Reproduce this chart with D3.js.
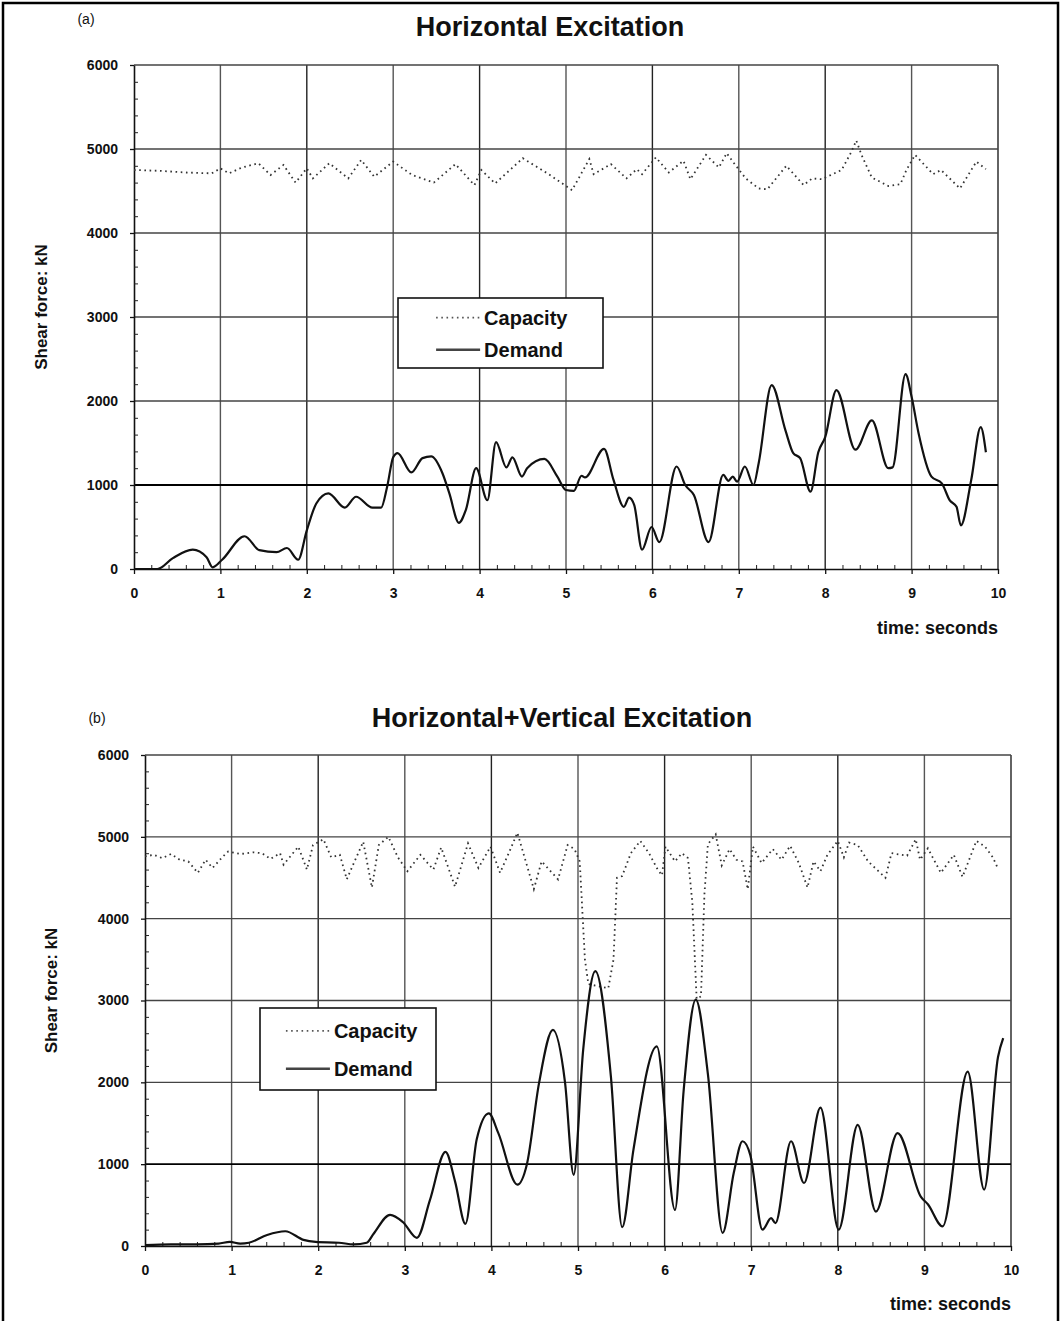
<!DOCTYPE html>
<html>
<head>
<meta charset="utf-8">
<script src="https://cdn.jsdelivr.net/npm/d3@7"></script>
<style>
  body { margin: 0; background: #fff; }
  svg text { font-family: "Liberation Sans", Arial, sans-serif; font-weight: bold; fill: #111; }
</style>
</head>
<body>
<div id="chart"></div>
<script>
// ---- data: [time (s), shear force (kN)] ----
var demandA = [[0,0],[0.27,0],[0.45,130],[0.68,230],[0.84,140],[0.91,20],[1.02,110],[1.28,390],[1.45,225],
  [1.65,200],[1.77,250],[1.9,110],[2.0,460],[2.11,780],[2.25,900],[2.44,730],[2.57,860],[2.76,730],[2.86,730],
  [2.93,980],[3.0,1330],[3.05,1380],[3.21,1150],[3.34,1320],[3.44,1340],[3.57,1140],[3.65,900],[3.76,550],
  [3.84,700],[3.96,1200],[4.09,820],[4.19,1510],[4.31,1210],[4.38,1330],[4.49,1100],[4.55,1200],[4.75,1310],
  [4.9,1100],[5.0,940],[5.09,930],[5.18,1110],[5.22,1090],[5.44,1430],[5.55,1060],[5.67,740],[5.73,850],
  [5.79,760],[5.88,230],[5.99,500],[6.08,320],[6.28,1220],[6.38,1000],[6.48,880],[6.65,320],[6.82,1120],
  [6.88,1050],[6.93,1100],[6.98,1040],[7.07,1220],[7.17,1000],[7.23,1260],[7.38,2190],[7.54,1650],[7.63,1380],
  [7.71,1320],[7.83,920],[7.92,1390],[8.0,1570],[8.13,2130],[8.35,1420],[8.54,1770],[8.73,1200],[8.78,1210],
  [8.93,2320],[9.0,2050],[9.08,1620],[9.23,1100],[9.35,1020],[9.44,820],[9.52,740],[9.57,520],[9.69,1060],
  [9.8,1690],[9.86,1390]];

var capacityA = [[0,4750],[0.3,4740],[0.6,4720],[0.9,4710],[1.0,4770],[1.1,4710],[1.25,4780],[1.44,4830],
  [1.58,4690],[1.73,4810],[1.87,4600],[2.0,4770],[2.07,4650],[2.26,4830],[2.48,4650],[2.63,4870],[2.78,4670],
  [3.0,4850],[3.22,4690],[3.47,4600],[3.72,4820],[3.94,4570],[4.02,4750],[4.18,4590],[4.5,4890],[4.8,4700],
  [5.07,4510],[5.27,4880],[5.32,4700],[5.52,4820],[5.7,4650],[5.82,4760],[5.88,4700],[6.04,4900],[6.19,4720],
  [6.36,4860],[6.44,4640],[6.62,4930],[6.77,4780],[6.86,4950],[6.93,4850],[7.08,4650],[7.23,4530],[7.33,4520],
  [7.55,4800],[7.75,4570],[7.85,4650],[7.96,4640],[8.19,4750],[8.3,4960],[8.36,5100],[8.42,4930],[8.54,4660],
  [8.73,4560],[8.87,4580],[8.94,4750],[9.04,4930],[9.25,4700],[9.34,4750],[9.56,4530],[9.75,4850],[9.86,4760]];

var demandB = [[0,10],[0.3,20],[0.6,20],[0.85,30],[0.98,50],[1.1,30],[1.2,40],[1.41,135],[1.62,180],[1.83,75],
  [1.97,50],[2.24,40],[2.41,20],[2.56,40],[2.64,150],[2.83,380],[2.98,290],[3.14,100],[3.29,560],[3.47,1150],
  [3.58,790],[3.7,270],[3.83,1300],[3.97,1620],[4.08,1380],[4.3,750],[4.41,1000],[4.55,1990],[4.71,2640],
  [4.85,2000],[4.95,870],[5.06,2400],[5.2,3360],[5.38,2070],[5.51,230],[5.64,1175],[5.91,2440],[6.12,440],
  [6.22,1900],[6.36,3010],[6.5,2100],[6.67,160],[6.8,900],[6.9,1280],[6.99,1110],[7.13,200],[7.23,340],
  [7.28,280],[7.46,1280],[7.61,770],[7.8,1690],[8.01,200],[8.23,1480],[8.44,420],[8.69,1380],[8.96,600],
  [9.04,510],[9.21,240],[9.5,2130],[9.69,690],[9.85,2310],[9.91,2540]];

var capacityB = [[0,4760],[0.1,4780],[0.2,4740],[0.3,4790],[0.4,4720],[0.5,4700],[0.61,4560],[0.7,4720],
  [0.78,4620],[0.9,4760],[0.96,4820],[1.1,4790],[1.25,4810],[1.35,4800],[1.45,4730],[1.56,4800],[1.6,4660],
  [1.77,4880],[1.87,4600],[1.94,4900],[2.06,4970],[2.15,4750],[2.25,4780],[2.33,4480],[2.42,4700],[2.52,4940],
  [2.62,4380],[2.7,4900],[2.81,5000],[2.92,4750],[3.03,4580],[3.18,4780],[3.33,4600],[3.42,4870],[3.58,4390],
  [3.73,4920],[3.85,4620],[3.99,4880],[4.1,4560],[4.2,4800],[4.3,5050],[4.49,4360],[4.58,4700],[4.77,4480],
  [4.88,4900],[4.96,4850],[5.02,4700],[5.08,3500],[5.12,3200],[5.35,3150],[5.41,3500],[5.45,4500],[5.51,4520],
  [5.61,4800],[5.72,4950],[5.82,4800],[5.92,4600],[5.97,4530],[6.01,4880],[6.12,4700],[6.2,4800],[6.27,4740],
  [6.32,4200],[6.37,3020],[6.42,3050],[6.46,4300],[6.5,4910],[6.59,5030],[6.66,4650],[6.75,4850],[6.83,4720],
  [6.9,4700],[6.96,4360],[7.02,4880],[7.12,4680],[7.25,4850],[7.35,4720],[7.45,4890],[7.55,4680],[7.65,4380],
  [7.72,4700],[7.8,4580],[7.88,4780],[8.0,4950],[8.07,4750],[8.13,4930],[8.23,4900],[8.35,4700],[8.55,4500],
  [8.62,4800],[8.8,4770],[8.9,4970],[8.95,4720],[9.04,4860],[9.19,4560],[9.34,4780],[9.44,4510],[9.6,4950],
  [9.7,4880],[9.79,4750],[9.85,4610]];

var titles = ["Horizontal Excitation", "Horizontal+Vertical Excitation"];
var tags = ["(a)", "(b)"];
var xTicks = d3.range(0, 11);
var yTicks = d3.range(0, 7000, 1000);
var legendLabels = ["Capacity", "Demand"];
var yLabel = "Shear force: kN";
var xLabel = "time: seconds";

var width = 1061, height = 1321;

var svg = d3.select("#chart").append("svg")
    .attr("width", width)
    .attr("height", height);

// scanned page frame (top, left, right)
svg.append("path")
    .attr("d", "M3," + height + "V3H1058V" + height)
    .attr("fill", "none")
    .attr("stroke", "#000")
    .attr("stroke-width", 2.5);

var panels = [
  {demand: demandA, capacity: capacityA, left: 134, right: 998, top: 65, bottom: 569,
   titleX: 550, titleY: 36, tagX: 86, tagY: 24, yLabX: 47, timeY: 634,
   legend: {x: 398, y: 298, w: 205, h: 70}},
  {demand: demandB, capacity: capacityB, left: 145, right: 1011, top: 755, bottom: 1246,
   titleX: 562, titleY: 727, tagX: 97, tagY: 723, yLabX: 57, timeY: 1310,
   legend: {x: 260, y: 1008, w: 176, h: 82}}
];

panels.forEach(function(p, i) { drawPanel(p, i); });

function drawPanel(p, i) {
  var x = d3.scaleLinear().domain([0, 10]).range([p.left, p.right]);
  var y = d3.scaleLinear().domain([0, 6000]).range([p.bottom, p.top]);
  var g = svg.append("g");

  // grid
  g.append("g").selectAll("line")
      .data(xTicks.slice(1))
    .join("line")
      .attr("x1", function(d) { return x(d); })
      .attr("x2", function(d) { return x(d); })
      .attr("y1", y(0))
      .attr("y2", y(6000))
      .attr("stroke", function(d) { return d % 2 ? "#555" : "#222"; })
      .attr("stroke-width", 1.4);

  g.append("g").selectAll("line")
      .data(yTicks.slice(1))
    .join("line")
      .attr("x1", x(0))
      .attr("x2", x(10))
      .attr("y1", function(d) { return y(d); })
      .attr("y2", function(d) { return y(d); })
      .attr("stroke", function(d) { return d == 1000 ? "#000" : "#444"; })
      .attr("stroke-width", function(d) { return d == 1000 ? 1.8 : 1.4; });

  // axes
  g.append("g")
      .attr("transform", "translate(0," + y(0) + ")")
      .call(d3.axisBottom(x).tickValues(xTicks).tickSize(5).tickSizeOuter(0).tickPadding(14)
              .tickFormat(d3.format("d")))
      .call(styleAxis);

  g.append("g")
      .attr("transform", "translate(0," + y(0) + ")")
      .call(d3.axisTop(x).tickValues(d3.range(1, 50).filter(function(k) { return k % 5; })
              .map(function(k) { return k / 5; })).tickSize(4).tickFormat(""))
      .call(function(a) { a.select(".domain").remove(); a.selectAll("line").attr("stroke", "#222"); });

  g.append("g")
      .attr("transform", "translate(" + x(0) + ",0)")
      .call(d3.axisLeft(y).tickValues(yTicks).tickSize(4).tickSizeOuter(0).tickPadding(12)
              .tickFormat(d3.format("d")))
      .call(styleAxis);

  g.append("g")
      .attr("transform", "translate(" + x(0) + ",0)")
      .call(d3.axisRight(y).tickValues(d3.range(200, 6000, 200).filter(function(v) { return v % 1000; }))
              .tickSize(4).tickFormat(""))
      .call(function(a) { a.select(".domain").remove(); a.selectAll("line").attr("stroke", "#222"); });

  // series
  var smooth = d3.line()
      .x(function(d) { return x(d[0]); })
      .y(function(d) { return y(d[1]); })
      .curve(d3.curveMonotoneX);

  var straight = d3.line()
      .x(function(d) { return x(d[0]); })
      .y(function(d) { return y(d[1]); });

  g.append("path")
      .datum(p.capacity)
      .attr("d", straight)
      .attr("fill", "none")
      .attr("stroke", "#333")
      .attr("stroke-width", 1.8)
      .attr("stroke-dasharray", "1.6,3.6");

  g.append("path")
      .datum(p.demand)
      .attr("d", smooth)
      .attr("fill", "none")
      .attr("stroke", "#111")
      .attr("stroke-width", 2.2)
      .attr("stroke-linejoin", "round");

  // titles and labels
  g.append("text")
      .attr("x", p.titleX).attr("y", p.titleY)
      .attr("text-anchor", "middle")
      .style("font-size", "27px")
      .text(titles[i]);

  g.append("text")
      .attr("x", p.tagX).attr("y", p.tagY)
      .attr("text-anchor", "middle")
      .style("font-size", "14px")
      .style("font-weight", "normal")
      .text(tags[i]);

  g.append("text")
      .attr("transform", "translate(" + p.yLabX + "," + ((y(0) + y(6000)) / 2 - 10) + ") rotate(-90)")
      .attr("text-anchor", "middle")
      .style("font-size", "17px")
      .text(yLabel);

  g.append("text")
      .attr("x", x(10)).attr("y", p.timeY)
      .attr("text-anchor", "end")
      .style("font-size", "18px")
      .text(xLabel);

  // legend
  var L = p.legend;
  var lg = g.append("g").attr("transform", "translate(" + L.x + "," + L.y + ")");
  lg.append("rect")
      .attr("width", L.w).attr("height", L.h)
      .attr("fill", "#fff")
      .attr("stroke", "#111")
      .attr("stroke-width", 1.6);

  var rowY = d3.scalePoint().domain(legendLabels).range([L.h * 0.28, L.h * 0.74]);
  var textX = L.w * 0.42;

  lg.append("line")
      .attr("x1", textX - 48).attr("x2", textX - 4)
      .attr("y1", rowY("Capacity")).attr("y2", rowY("Capacity"))
      .attr("stroke", "#555").attr("stroke-width", 1.8).attr("stroke-dasharray", "1.6,3.6");
  lg.append("line")
      .attr("x1", textX - 48).attr("x2", textX - 4)
      .attr("y1", rowY("Demand")).attr("y2", rowY("Demand"))
      .attr("stroke", "#444").attr("stroke-width", 2.4);

  lg.selectAll("text.leg")
      .data(legendLabels)
    .join("text")
      .attr("class", "leg")
      .attr("x", textX)
      .attr("y", function(d) { return rowY(d); })
      .attr("dy", "0.36em")
      .style("font-size", "20px")
      .text(function(d) { return d; });
}

function styleAxis(a) {
  a.select(".domain").attr("stroke", "#111").attr("stroke-width", 1.6);
  a.selectAll(".tick line").attr("stroke", "#111").attr("stroke-width", 1.3);
  a.selectAll(".tick text")
      .style("font-family", "'Liberation Sans', Arial, sans-serif")
      .style("font-weight", "bold")
      .style("font-size", "14px")
      .attr("fill", "#111");
}
</script>
</body>
</html>
